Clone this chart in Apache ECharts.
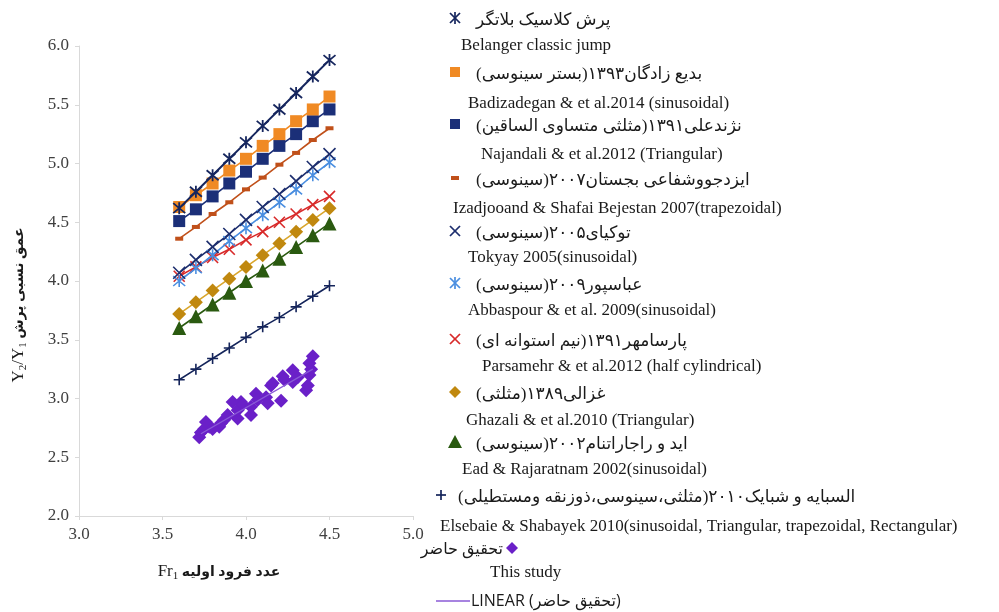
<!DOCTYPE html>
<html>
<head>
<meta charset="utf-8">
<script src="https://cdn.jsdelivr.net/npm/echarts@6/dist/echarts.min.js"></script>
<style>
  html, body { margin: 0; padding: 0; background: #ffffff; }
  #chart { width: 999px; height: 612px; }
</style>
</head>
<body>
<div id="chart"></div>
<script>
// Froude number of the approaching flow (shared by all reference curves)
const fr = [3.6, 3.7, 3.8, 3.9, 4.0, 4.1, 4.2, 4.3, 4.4, 4.5];

// Sequent depth ratio Y2/Y1 for each study
const belanger    = [4.62, 4.76, 4.90, 5.04, 5.18, 5.32, 5.46, 5.60, 5.74, 5.88];
const badizadegan = [4.63, 4.73, 4.83, 4.94, 5.04, 5.15, 5.25, 5.36, 5.46, 5.57];
const najandali   = [4.51, 4.61, 4.72, 4.83, 4.93, 5.04, 5.15, 5.25, 5.36, 5.46];
const izadjoo     = [4.36, 4.46, 4.57, 4.67, 4.78, 4.88, 4.99, 5.09, 5.20, 5.30];
const tokyay      = [4.07, 4.18, 4.29, 4.40, 4.52, 4.63, 4.74, 4.85, 4.97, 5.08];
const abbaspour   = [4.00, 4.11, 4.22, 4.34, 4.45, 4.56, 4.67, 4.78, 4.90, 5.01];
const parsamehr   = [4.04, 4.12, 4.20, 4.27, 4.35, 4.42, 4.50, 4.57, 4.65, 4.72];
const ghazali     = [3.72, 3.82, 3.92, 4.02, 4.12, 4.22, 4.32, 4.42, 4.52, 4.62];
const ead         = [3.60, 3.70, 3.80, 3.90, 4.00, 4.09, 4.19, 4.29, 4.39, 4.49];
const elsebaie    = [3.16, 3.25, 3.34, 3.43, 3.52, 3.61, 3.69, 3.78, 3.87, 3.96];

// Present study measurements
const studyFr    = [3.72, 3.73, 3.75, 3.76, 3.78, 3.80, 3.84, 3.85, 3.87, 3.89, 3.92, 3.95, 3.95, 3.97, 3.98,
                    4.03, 4.03, 4.06, 4.07, 4.12, 4.13, 4.15, 4.16, 4.21, 4.22, 4.23, 4.28, 4.28, 4.31,
                    4.36, 4.37, 4.38, 4.39, 4.38, 4.40];
const studyDepth = [2.67, 2.71, 2.74, 2.80, 2.76, 2.74, 2.76, 2.79, 2.82, 2.86, 2.97, 2.83, 2.90, 2.97, 2.95,
                    2.86, 2.93, 3.04, 2.99, 3.01, 2.96, 3.11, 3.13, 2.98, 3.19, 3.16, 3.14, 3.24, 3.18,
                    3.07, 3.11, 3.20, 3.25, 3.30, 3.36];
// Linear fit of the present study (end points)
const fitFr    = [3.73, 4.40];
const fitDepth = [2.70, 3.25];

// Axis ticks
const xTicks = { min: 3.0, max: 5.0, step: 0.5 };
const yTicks = { min: 2.0, max: 6.0, step: 0.5 };

// Legend labels
const legendFa = [
  'پرش کلاسیک بلاتگر',
  'بدیع زادگان۱۳۹۳(بستر سینوسی)',
  'نژندعلی۱۳۹۱(مثلثی متساوی الساقین)',
  'ایزدجووشفاعی بجستان۲۰۰۷(سینوسی)',
  'توکیای۲۰۰۵(سینوسی)',
  'عباسپور۲۰۰۹(سینوسی)',
  'پارسامهر۱۳۹۱(نیم استوانه ای)',
  'غزالی۱۳۸۹(مثلثی)',
  'اید و راجاراتنام۲۰۰۲(سینوسی)',
  'السبایه و شبایک۲۰۱۰(مثلثی،سینوسی،ذوزنقه ومستطیلی)'
];
const legendEn = [
  'Belanger classic jump',
  'Badizadegan & et al.2014 (sinusoidal)',
  'Najandali & et al.2012 (Triangular)',
  'Izadjooand & Shafai Bejestan 2007(trapezoidal)',
  'Tokyay 2005(sinusoidal)',
  'Abbaspour & et al. 2009(sinusoidal)',
  'Parsamehr & et al.2012 (half cylindrical)',
  'Ghazali & et al.2010 (Triangular)',
  'Ead & Rajaratnam 2002(sinusoidal)',
  'Elsebaie & Shabayek 2010(sinusoidal, Triangular, trapezoidal, Rectangular)'
];
const studyFa = 'تحقیق حاضر';
const studyEn = 'This study';
const fitLabel = 'LINEAR (تحقیق حاضر)';
const xTitleFa = 'عدد فرود اولیه';
const yTitleFa = 'عمق نسبی پرش';

// ---- styling ----
const C = {
  belanger: '#16265e', orange: '#f08a24', navySq: '#1b2f78', brown: '#c0501a',
  tokyay: '#1d2e6e', lightBlue: '#4a8ee0', red: '#d82a2a', gold: '#c0880f', goldLine: '#d9a62c',
  green: '#2a5a10', plus: '#14245a', purple: '#6a20c8'
};
const SERIF = '"Liberation Serif", "Times New Roman", serif';
const FA = '"Liberation Serif", "DejaVu Sans", serif';

const P_ASTER = 'path://M0,0L10,10M10,0L0,10M5,-1L5,11';
const P_X = 'path://M0,0L10,10M10,0L0,10';
const P_PLUS = 'path://M0,5L10,5M5,0L5,10';

const pts = ys => ys.map((y, i) => [fr[i], y]);

function lineSeries(name, ys, color, symbol, size, opts) {
  opts = opts || {};
  const stroke = opts.stroke;
  return {
    name, type: 'line', data: pts(ys), z: opts.z || 2,
    symbol, symbolSize: size, showSymbol: true, showAllSymbol: true,
    lineStyle: { color: opts.lineColor || color, width: opts.lineWidth || 1.6 },
    itemStyle: stroke
      ? { color: 'rgba(0,0,0,0)', borderColor: color, borderWidth: opts.bw || 1.6 }
      : { color, borderWidth: 0 },
    emphasis: { disabled: true },
    animation: false
  };
}

const series = [
  lineSeries('elsebaie', elsebaie, C.plus, P_PLUS, 11, { stroke: true, bw: 1.6 }),
  lineSeries('ead', ead, C.green, 'triangle', 14, {}),
  lineSeries('ghazali', ghazali, C.gold, 'diamond', 14, { lineColor: C.goldLine }),
  lineSeries('parsamehr', parsamehr, C.red, P_X, 11, { stroke: true, bw: 1.6 }),
  lineSeries('abbaspour', abbaspour, C.lightBlue, P_ASTER, 12, { stroke: true, bw: 1.6 }),
  lineSeries('tokyay', tokyay, C.tokyay, P_X, 12, { stroke: true, bw: 1.6 }),
  lineSeries('izadjoo', izadjoo, C.brown, 'rect', [8, 4], {}),
  lineSeries('najandali', najandali, C.navySq, 'rect', 12, {}),
  lineSeries('badizadegan', badizadegan, C.orange, 'rect', 12, {}),
  lineSeries('belanger', belanger, C.belanger, P_ASTER, 12, { stroke: true, bw: 1.8, lineWidth: 2, z: 5 }),
  {
    name: 'study', type: 'scatter', symbol: 'diamond', symbolSize: 14, z: 3,
    data: studyFr.map((x, i) => [x, studyDepth[i]]),
    itemStyle: { color: C.purple, opacity: 1 },
    emphasis: { disabled: true },
    animation: false
  },
  {
    name: 'fit', type: 'line', symbol: 'none', z: 4,
    data: fitFr.map((x, i) => [x, fitDepth[i]]),
    lineStyle: { color: '#8a5ad6', width: 1.2 },
    animation: false
  }
];

// ---- legend block (drawn as graphic elements) ----
const LX = 455;                       // icon centre x
const iconY = [18, 72, 124, 178, 231, 283, 339, 392, 442, 495];
const enY   = [46, 104, 155, 209, 258, 311, 367, 421, 470, 527];
const enX   = [461, 468, 481, 453, 468, 468, 482, 466, 462, 440];
const faX = 476;
const iconKinds = [
  ['aster', C.belanger], ['rect', C.orange], ['rect', C.navySq], ['dash', C.brown],
  ['x', C.tokyay], ['aster', C.lightBlue], ['x', C.red], ['diamond', C.gold],
  ['triangle', C.green], ['plus', C.plus]
];
const rtl = s => '\u202B' + s + '\u202C';

function icon(kind, color, cx, cy) {
  const r = 5;
  const ln = (x1, y1, x2, y2) => ({ type: 'line', shape: { x1, y1, x2, y2 }, style: { stroke: color, lineWidth: 1.7 } });
  switch (kind) {
    case 'aster': return [ln(cx - r, cy - r, cx + r, cy + r), ln(cx + r, cy - r, cx - r, cy + r), ln(cx, cy - r - 1, cx, cy + r + 1)];
    case 'x': return [ln(cx - r, cy - r, cx + r, cy + r), ln(cx + r, cy - r, cx - r, cy + r)];
    case 'plus': return [ln(cx - r, cy, cx + r, cy), ln(cx, cy - r, cx, cy + r)];
    case 'rect': return [{ type: 'rect', shape: { x: cx - 5, y: cy - 5, width: 10, height: 10 }, style: { fill: color } }];
    case 'dash': return [{ type: 'rect', shape: { x: cx - 4, y: cy - 2, width: 8, height: 4 }, style: { fill: color } }];
    case 'diamond': return [{ type: 'polygon', shape: { points: [[cx, cy - 6], [cx + 6, cy], [cx, cy + 6], [cx - 6, cy]] }, style: { fill: color } }];
    case 'triangle': return [{ type: 'polygon', shape: { points: [[cx, cy - 7], [cx + 7, cy + 6], [cx - 7, cy + 6]] }, style: { fill: color } }];
  }
  return [];
}

function txt(text, x, y, font, align, extra) {
  return Object.assign({
    type: 'text', x, y,
    style: { text, font, fill: '#1a1a1a', align: align || 'left', verticalAlign: 'middle',
             textAlign: align || 'left', textVerticalAlign: 'middle' }
  }, extra || {});
}

const graphics = [];
legendFa.forEach((fa, i) => {
  const ix = (i === 9) ? 441 : LX;
  graphics.push(...icon(iconKinds[i][0], iconKinds[i][1], ix, iconY[i]));
  graphics.push(txt(rtl(fa), i === 9 ? 458 : faX, iconY[i] + 3, '17px ' + FA));
  graphics.push(txt(legendEn[i], enX[i], enY[i], '17px ' + SERIF));
});
// present study entry
graphics.push(txt(rtl(studyFa), 503, 550, '16px ' + FA, 'right'));
graphics.push(...icon('diamond', C.purple, 512, 548));
graphics.push(txt(studyEn, 490, 573, '17px ' + SERIF));
graphics.push({ type: 'line', shape: { x1: 436, y1: 601, x2: 470, y2: 601 }, style: { stroke: '#8a5ad6', lineWidth: 1.5 } });
graphics.push(txt(fitLabel, 471, 601, '16px "Open Sans", "DejaVu Sans", sans-serif'));

// axis titles
const titleRich = {
  a: { fontFamily: SERIF, fontSize: 17, fill: '#1a1a1a', color: '#1a1a1a' },
  s: { fontFamily: SERIF, fontSize: 11, fill: '#1a1a1a', color: '#1a1a1a', padding: [8, 0, 0, 0] },
  p: { fontFamily: FA, fontSize: 14, fontWeight: 'bold', fill: '#1a1a1a', color: '#1a1a1a' }
};
graphics.push({
  type: 'text', x: 19, y: 305, rotation: Math.PI / 2,
  style: {
    text: '{a|Y}{s|2}{a|/Y}{s|1}{p| ' + yTitleFa + '}',
    align: 'center', verticalAlign: 'middle', textAlign: 'center', textVerticalAlign: 'middle',
    rich: titleRich
  }
});
graphics.push({
  type: 'text', x: 219, y: 572,
  style: {
    text: '{a|Fr}{s|1}{p| ' + xTitleFa + '}',
    align: 'center', verticalAlign: 'middle', textAlign: 'center', textVerticalAlign: 'middle',
    rich: titleRich
  }
});

const axisCommon = {
  type: 'value',
  axisLine: { show: true, lineStyle: { color: '#d9d9d9', width: 1 } },
  axisTick: { show: true, length: 4, lineStyle: { color: '#d9d9d9' } },
  splitLine: { show: false },
  axisLabel: { fontFamily: SERIF, fontSize: 17, color: '#404040', formatter: v => v.toFixed(1) }
};

const chart = echarts.init(document.getElementById('chart'), null, { renderer: 'canvas' });
chart.setOption({
  backgroundColor: '#ffffff',
  animation: false,
  grid: { left: 79, right: 586, top: 46, bottom: 96, containLabel: false },
  xAxis: Object.assign({}, axisCommon, {
    min: xTicks.min, max: xTicks.max, interval: xTicks.step,
    axisLabel: Object.assign({}, axisCommon.axisLabel, { margin: 10 })
  }),
  yAxis: Object.assign({}, axisCommon, {
    min: yTicks.min, max: yTicks.max, interval: yTicks.step,
    axisLabel: Object.assign({}, axisCommon.axisLabel, { margin: 10 })
  }),
  series,
  graphic: graphics
});
</script>
</body>
</html>
